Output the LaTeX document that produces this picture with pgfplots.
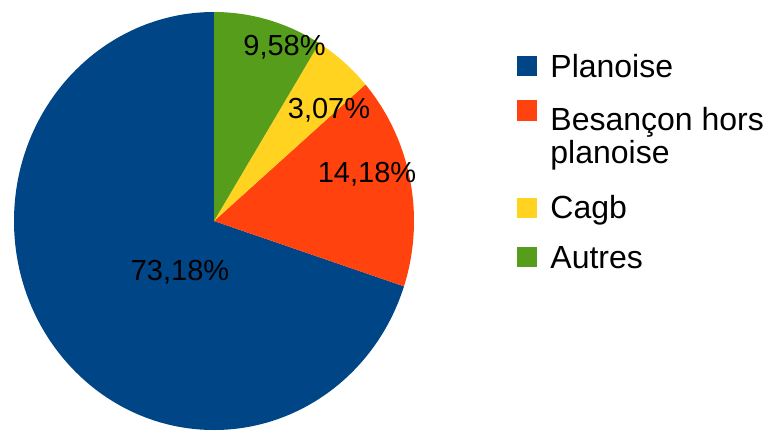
\documentclass[border=0pt]{standalone}
\usepackage{pgfplots}
\pgfplotsset{compat=1.18}
\usepackage{fontspec}
\setmainfont{Liberation Sans}

\definecolor{pblue}{HTML}{004586}
\definecolor{porange}{HTML}{FF420E}
\definecolor{pyellow}{HTML}{FFD320}
\definecolor{pgreen}{HTML}{579D1C}

\begin{document}
\begin{tikzpicture}
% shares of the circle as drawn (percent), counter-clockwise from the top
\def\sPlanoise{69.94}
\def\sBesancon{16.39}
\def\sCagb{4.86}
\def\sAutres{8.81}
\pgfmathsetmacro\aA{90}
\pgfmathsetmacro\aB{\aA+3.6*\sPlanoise}
\pgfmathsetmacro\aC{\aB+3.6*\sBesancon}
\pgfmathsetmacro\aD{\aC+3.6*\sCagb}
\pgfmathsetmacro\aE{\aD+3.6*\sAutres}
\begin{axis}[
    width=388pt, height=215pt, scale only axis,
    xmin=0, xmax=776, ymin=0, ymax=430,
    hide axis, clip=false]
  % keep the full canvas as bounding box
  \path (axis cs:0,0) rectangle (axis cs:776,430);
  % pie slices (centre 214,209; radii 200 x 209 axis units)
  \fill[pblue] (axis cs:214,209) -- (axis cs:{214+200*cos(\aA)},{209+209*sin(\aA)})
    arc[start angle=\aA, end angle=\aB, x radius=100pt, y radius=104.5pt] -- cycle;
  \fill[porange] (axis cs:214,209) -- (axis cs:{214+200*cos(\aB)},{209+209*sin(\aB)})
    arc[start angle=\aB, end angle=\aC, x radius=100pt, y radius=104.5pt] -- cycle;
  \fill[pyellow] (axis cs:214,209) -- (axis cs:{214+200*cos(\aC)},{209+209*sin(\aC)})
    arc[start angle=\aC, end angle=\aD, x radius=100pt, y radius=104.5pt] -- cycle;
  \fill[pgreen] (axis cs:214,209) -- (axis cs:{214+200*cos(\aD)},{209+209*sin(\aD)})
    arc[start angle=\aD, end angle=\aE, x radius=100pt, y radius=104.5pt] -- cycle;

  % slice labels
  \begin{scope}[every node/.style={inner sep=0pt, anchor=base, font=\fontsize{14.5}{17}\selectfont}]
  \node at (axis cs:284.5,375) {9,58\%};
  \node at (axis cs:329,312) {3,07\%};
  \node at (axis cs:367,248) {14,18\%};
  \node at (axis cs:180,150) {73,18\%};
  \end{scope}

  % legend
  \fill[pblue]   (axis cs:517,354) rectangle (axis cs:537,374);
  \fill[porange] (axis cs:517,309) rectangle (axis cs:537,330);
  \fill[pyellow] (axis cs:517,212) rectangle (axis cs:537,232);
  \fill[pgreen]  (axis cs:517,163) rectangle (axis cs:537,183);
  \begin{scope}[every node/.style={inner sep=0pt, anchor=base west, font=\fontsize{16}{19}\selectfont}]
  \node at (axis cs:550,353) {Planoise};
  \node at (axis cs:550,300) {Besançon hors};
  \node at (axis cs:550,267) {planoise};
  \node at (axis cs:550,212) {Cagb};
  \node at (axis cs:550,162) {Autres};
  \end{scope}
\end{axis}
\end{tikzpicture}
\end{document}
